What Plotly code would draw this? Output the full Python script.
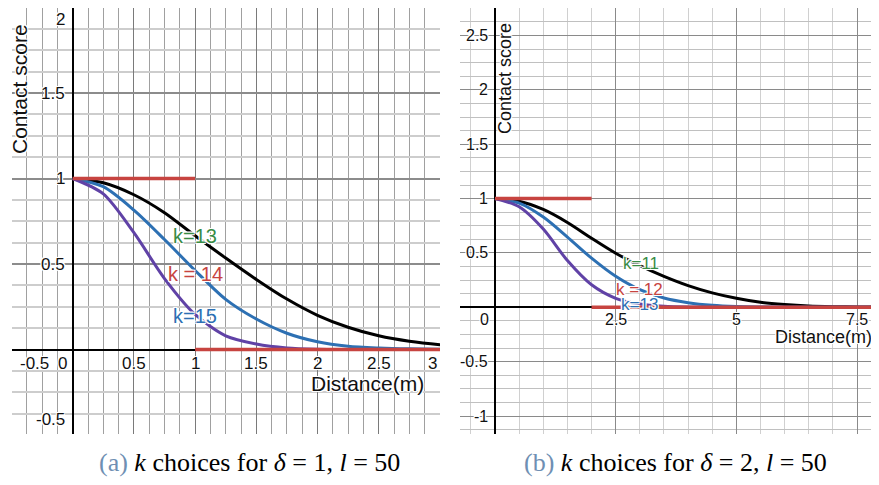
import plotly.graph_objects as go

W, H = 879, 485
OFF = 8  # the page body margin shifts the figure by this many pixels

# ---------------- data ----------------
# panel (a): delta = 1
a_delta = 1.0
a_x = [0, 0.25, 0.5, 0.75, 1.0, 1.25, 1.5, 1.75, 2.0, 2.25, 2.5, 2.75, 3.0, 3.1]
a_k13 = [1, 0.975, 0.905, 0.80, 0.665, 0.535, 0.41, 0.295, 0.20, 0.13, 0.08, 0.048, 0.028, 0.023]
a_k14 = [1, 0.952, 0.815, 0.643, 0.462, 0.293, 0.178, 0.095, 0.045, 0.019, 0.009, 0.004, 0.002, 0.001]
a_k15 = [1, 0.91, 0.683, 0.415, 0.205, 0.08, 0.032, 0.009, 0.002, 0.0005, 0.0001, 0, 0, 0]
a_labels = ["k=13", "k = 14", "k=15"]
a_label_x = [1.0, 1.0, 1.0]
a_label_y = [0.664, 0.44, 0.196]
a_xticks = [-0.5, 0.5, 1, 1.5, 2, 2.5, 3]
a_yticks = [-0.5, 0.5, 1, 1.5, 2]

# panel (b): delta = 2
b_delta = 2.0
b_x = [0, 0.5, 1, 1.5, 2, 2.5, 3, 3.5, 4, 4.5, 5, 5.5, 6, 6.5, 7, 7.5, 8.2]
b_k11 = [1, 0.976, 0.90, 0.78, 0.635, 0.497, 0.383, 0.285, 0.20, 0.133, 0.083, 0.046, 0.025, 0.012, 0.006, 0.003, 0.001]
b_k12 = [1, 0.958, 0.83, 0.646, 0.452, 0.285, 0.162, 0.085, 0.042, 0.018, 0.007, 0.003, 0.001, 0, 0, 0, 0]
b_k13 = [1, 0.925, 0.72, 0.43, 0.207, 0.083, 0.03, 0.009, 0.002, 0, 0, 0, 0, 0, 0, 0, 0]
b_labels = ["k=11", "k = 12", "k=13"]
b_label_x = [3.02, 3.0, 3.0]
b_label_y = [0.40, 0.168, 0.03]
b_xticks = [2.5, 5, 7.5]
b_yticks = [-1, -0.5, 0.5, 1, 1.5, 2, 2.5]

captions = ["(a)", "(b)"]
caption_text = ["<i>k</i> choices for <i>δ</i> = 1, <i>l</i> = 50",
                "<i>k</i> choices for <i>δ</i> = 2, <i>l</i> = 50"]

# ---------------- styling / geometry ----------------
BLACK = "#000000"
BLUE = "#2d70b3"
PURPLE = "#6042a6"
RED = "#c74440"
GREEN = "#388c46"
FONT = "Liberation Sans"
HALO = "-1px -1px 0 #fff, 1px -1px 0 #fff, -1px 1px 0 #fff, 1px 1px 0 #fff, 0 0 2px #fff"

# panel geometry in page pixels: box (l, t, r, b), origin pixel, pixels per unit
A_GEO = dict(box=(12, 7, 440, 434), ox=72.7, oy=349.5, sx=122.4, sy=171.0)
B_GEO = dict(box=(460, 7, 890, 434), ox=495.0, oy=307.3, sx=48.28, sy=108.7)


def fig_box(geo):
    l, t, r, b = geo["box"]
    l, t, r, b = l - OFF, t - OFF, r - OFF, b - OFF
    l, t = max(l, 0), max(t, 0)
    r, b = min(r, W), min(b, H)
    return l, t, r, b


def ranges(geo):
    l, t, r, b = fig_box(geo)
    ox, oy = geo["ox"] - OFF, geo["oy"] - OFF
    xr = [(l - ox) / geo["sx"], (r - ox) / geo["sx"]]
    yr = [(oy - b) / geo["sy"], (oy - t) / geo["sy"]]
    dx = [l / W, r / W]
    dy = [1 - b / H, 1 - t / H]
    return xr, yr, dx, dy


fig = go.Figure()


def add_curve(x, y, color, xa, ya):
    fig.add_trace(go.Scatter(x=x, y=y, mode="lines", xaxis=xa, yaxis=ya,
                             line=dict(color=color, width=3, shape="spline", smoothing=0.8),
                             hoverinfo="skip", showlegend=False))


def add_step(delta, xmax, xa, ya):
    fig.add_trace(go.Scatter(x=[0, delta], y=[1, 1], mode="lines", xaxis=xa, yaxis=ya,
                             line=dict(color=RED, width=3.5), hoverinfo="skip", showlegend=False))
    fig.add_trace(go.Scatter(x=[delta, xmax], y=[0, 0], mode="lines", xaxis=xa, yaxis=ya,
                             line=dict(color=RED, width=3.5), hoverinfo="skip", showlegend=False))


add_curve(a_x, a_k13, BLACK, "x", "y")
add_curve(a_x, a_k14, BLUE, "x", "y")
add_curve(a_x, a_k15, PURPLE, "x", "y")
add_step(a_delta, a_x[-1], "x", "y")

add_curve(b_x, b_k11, BLACK, "x2", "y2")
add_curve(b_x, b_k12, BLUE, "x2", "y2")
add_curve(b_x, b_k13, PURPLE, "x2", "y2")
add_step(b_delta, b_x[-1], "x2", "y2")


def axis(rng, domain, dtick, mdtick, anchor, gmaj, gmin, wmaj, wmin, zw):
    return dict(range=rng, domain=domain, anchor=anchor, dtick=dtick, tick0=0,
                showgrid=True, gridcolor=gmaj, gridwidth=wmaj,
                minor=dict(dtick=mdtick, tick0=0, showgrid=True, gridcolor=gmin, gridwidth=wmin),
                zeroline=True, zerolinecolor=BLACK, zerolinewidth=zw,
                showticklabels=False, ticks="", showline=False, fixedrange=True)


A_XR, A_YR, axd, ayd = ranges(A_GEO)
B_XR, B_YR, bxd, byd = ranges(B_GEO)

fig.update_layout(
    width=W, height=H, margin=dict(l=0, r=0, t=0, b=0),
    paper_bgcolor="white", plot_bgcolor="white", showlegend=False,
    xaxis=axis(A_XR, axd, 0.5, 0.125, "y", "#7a7a7a", "#a0a0a0", 1.2, 1, 2.2),
    yaxis=axis(A_YR, ayd, 0.5, 0.125, "x", "#8c8c8c", "#cdcdcd", 2, 1.6, 2),
    xaxis2=axis(B_XR, bxd, 2.5, 0.5, "y2", "#8a8a8a", "#d0d0d0", 1.2, 1.4, 1.6),
    yaxis2=axis(B_YR, byd, 0.5, 0.125, "x2", "#8a8a8a", "#c0c0c0", 1.2, 1.2, 1.6),
)

ann = []


def fmt(v):
    return "%g" % v


def tick_labels(geo, xr, yr, xticks, yticks, xa, ya, size, xoff, yoff, zero_dx):
    ppx, ppy = geo["sx"], geo["sy"]
    cw = 0.56 * size
    for v in xticks:
        txt = fmt(v)
        half = len(txt) * cw / 2 / ppx
        pad = 3 / ppx
        xv = min(max(v, xr[0] + half + pad), xr[1] - half - pad)
        ann.append(dict(x=xv, y=0, xref=xa, yref=ya, text=txt, showarrow=False,
                        xanchor="center", yanchor="middle", yshift=-yoff,
                        font=dict(family=FONT, size=size, color="#111", shadow=HALO)))
    ann.append(dict(x=0, y=0, xref=xa, yref=ya, text="0", showarrow=False,
                    xanchor="center", yanchor="middle", yshift=-yoff, xshift=-zero_dx,
                    font=dict(family=FONT, size=size, color="#111", shadow=HALO)))
    for v in yticks:
        txt = fmt(v)
        half = 0.5 * size / ppy
        yv = min(max(v, yr[0] + half + 6 / ppy), yr[1] - half - 3 / ppy)
        ann.append(dict(x=0, y=yv, xref=xa, yref=ya, text=txt, showarrow=False,
                        xanchor="right", yanchor="middle", xshift=-xoff,
                        font=dict(family=FONT, size=size, color="#111", shadow=HALO)))


tick_labels(A_GEO, A_XR, A_YR, a_xticks, a_yticks, "x", "y", 17, 5.5, 13.5, 10.7)
tick_labels(B_GEO, B_XR, B_YR, b_xticks, b_yticks, "x2", "y2", 16, 5, 12, 10)

# curve labels
for txt, x, y, c in zip(a_labels, a_label_x, a_label_y, [GREEN, RED, BLUE]):
    ann.append(dict(x=x, y=y, xref="x", yref="y", text=txt, showarrow=False,
                    xanchor="center", yanchor="middle",
                    font=dict(family=FONT, size=20, color=c, shadow=HALO)))
for txt, x, y, c in zip(b_labels, b_label_x, b_label_y, [GREEN, RED, BLUE]):
    ann.append(dict(x=x, y=y, xref="x2", yref="y2", text=txt, showarrow=False,
                    xanchor="center", yanchor="middle",
                    font=dict(family=FONT, size=17, color=c, shadow=HALO)))


def paper(px, py):
    return (px - OFF) / W, 1 - (py - OFF) / H


for (px, py), size in [((367, 383), 21), ((823, 337), 18)]:
    xp, yp = paper(px, py)
    ann.append(dict(x=xp, y=yp, xref="paper", yref="paper", text="Distance(m)", showarrow=False,
                    xanchor="center", yanchor="middle",
                    font=dict(family=FONT, size=size, color="#111", shadow=HALO)))
for (px, py), size in [((20, 89), 21), ((505, 79), 18)]:
    xp, yp = paper(px, py)
    ann.append(dict(x=xp, y=yp, xref="paper", yref="paper", text="Contact score", showarrow=False,
                    xanchor="center", yanchor="middle", textangle=-90,
                    font=dict(family=FONT, size=size, color="#111", shadow=HALO)))

# captions
for cap, txt, cx in zip(captions, caption_text, [249, 675]):
    xp, yp = paper(cx, 462)
    ann.append(dict(x=xp, y=yp, xref="paper", yref="paper",
                    text='<span style="color:#6f8fb3">' + cap + '</span> ' + txt,
                    showarrow=False, xanchor="center", yanchor="middle",
                    font=dict(family="Liberation Serif", size=26, color="#000")))

fig.update_layout(annotations=ann)
fig.write_html("out.html")
